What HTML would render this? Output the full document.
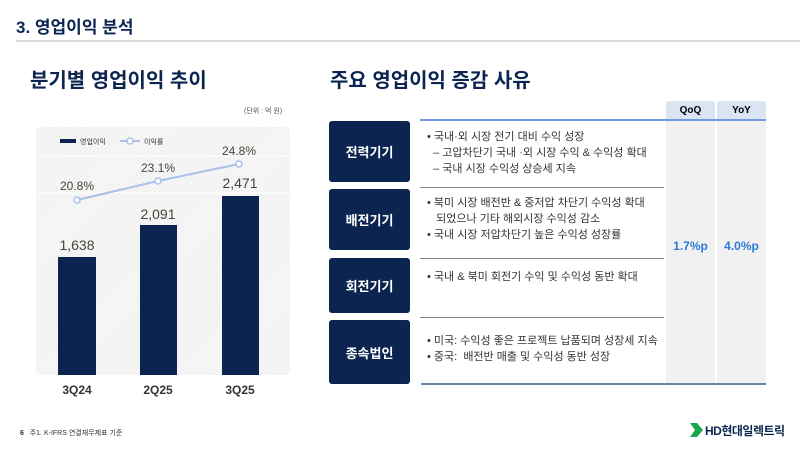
<!DOCTYPE html>
<html><head><meta charset="utf-8"><style>
body{margin:0;width:800px;height:452px;background:#fff;position:relative;overflow:hidden;font-family:"Liberation Sans","Noto Sans CJK KR",sans-serif;}
.a{position:absolute;}
.box{position:absolute;left:329px;width:81px;background:#0b2550;border-radius:3px;color:#fff;font-weight:bold;font-size:13px;display:flex;align-items:center;justify-content:center;}
.t{position:absolute;left:427px;font-size:11px;color:#333;line-height:16px;}
.hl{position:absolute;left:420px;width:244px;height:1px;background:#8a8a8a;}
</style></head><body>
<div class="a" style="left:16px;top:13px;font-size:17px;font-weight:bold;color:#0b2550">3. 영업이익 분석</div>
<div class="a" style="left:16px;top:40px;width:784px;height:2px;background:#ddd"></div>
<div class="a" style="left:30px;top:64px;font-size:20px;font-weight:bold;color:#0b2550">분기별 영업이익 추이</div>
<div class="a" style="left:244px;top:106px;font-size:7px;color:#555">(단위 : 억 원)</div>
<div class="a" style="left:36px;top:127px;width:254px;height:248px;background:repeating-linear-gradient(135deg,#eee 0 1px,#f7f7f7 1px 3px);border-radius:4px"></div>
<svg class="a" style="left:0;top:0" width="300" height="400">
<line x1="36" x2="290" y1="156" y2="156" stroke="#fff"/>
<line x1="36" x2="290" y1="193" y2="193" stroke="#fff"/>
<line x1="60" x2="76" y1="141" y2="141" stroke="#0b2550" stroke-width="4"/>
<text x="80" y="144" font-size="7" fill="#333">영업이익</text>
<line x1="120" x2="140" y1="141" y2="141" stroke="#a9c0e8" stroke-width="2"/><circle cx="130" cy="141" r="3" fill="#fff" stroke="#a9c0e8" stroke-width="1.5"/>
<text x="144" y="144" font-size="7" fill="#333">이익률</text>
<rect x="58" y="257" width="38" height="118" fill="#0b2550"/>
<rect x="140" y="225" width="37" height="150" fill="#0b2550"/>
<rect x="222" y="196" width="37" height="179" fill="#0b2550"/>
<polyline points="77,200 158,181 239,164" fill="none" stroke="#a9c0e8" stroke-width="2"/>
<g fill="#fff" stroke="#a9c0e8" stroke-width="1.5"><circle cx="77" cy="200" r="3"/><circle cx="158" cy="181" r="3"/><circle cx="239" cy="164" r="3"/></g>
<g font-size="12" fill="#4a4438" text-anchor="middle">
<text x="77" y="190">20.8%</text><text x="158" y="172">23.1%</text><text x="239" y="155">24.8%</text>
<text x="77" y="250" font-size="14">1,638</text><text x="158" y="219" font-size="14">2,091</text><text x="240" y="188" font-size="14">2,471</text>
</g>
<g font-size="12" font-weight="bold" fill="#333" text-anchor="middle">
<text x="77" y="394">3Q24</text><text x="158" y="394">2Q25</text><text x="240" y="394">3Q25</text></g>
</svg>
<div class="a" style="left:330px;top:64px;font-size:20px;font-weight:bold;color:#0b2550">주요 영업이익 증감 사유</div>
<div class="a" style="left:666px;top:101px;width:49px;height:19px;background:#dbe4f3;border-radius:3px 3px 0 0;font-size:10px;font-weight:bold;text-align:center;line-height:19px">QoQ</div>
<div class="a" style="left:717px;top:101px;width:49px;height:19px;background:#dbe4f3;border-radius:3px 3px 0 0;font-size:10px;font-weight:bold;text-align:center;line-height:19px">YoY</div>
<div class="a" style="left:666px;top:120px;width:49px;height:264px;background:#f1f1f1"></div>
<div class="a" style="left:717px;top:120px;width:49px;height:264px;background:#f1f1f1"></div>
<div class="a" style="left:420px;top:119px;width:346px;height:2px;background:#6f9be0"></div>
<div class="a" style="left:421px;top:383px;width:345px;height:2px;background:#6a84a8"></div>
<div class="hl" style="top:187px"></div><div class="hl" style="top:258px"></div><div class="hl" style="top:317px"></div>
<div class="a" style="left:666px;top:239px;width:49px;text-align:center;font-size:12px;font-weight:bold;color:#2b7bd6">1.7%p</div>
<div class="a" style="left:717px;top:239px;width:49px;text-align:center;font-size:12px;font-weight:bold;color:#2b7bd6">4.0%p</div>
<div class="box" style="top:121px;height:61px">전력기기</div>
<div class="box" style="top:189px;height:61px">배전기기</div>
<div class="box" style="top:258px;height:55px">회전기기</div>
<div class="box" style="top:320px;height:64px">종속법인</div>
<div class="t" style="top:129px">• 국내·외 시장 전기 대비 수익 성장<br>&nbsp;&nbsp;– 고압차단기 국내 ·외 시장 수익 &amp; 수익성 확대<br>&nbsp;&nbsp;– 국내 시장 수익성 상승세 지속</div>
<div class="t" style="top:195px">• 북미 시장 배전반 &amp; 중저압 차단기 수익성 확대<br>&nbsp;&nbsp;&nbsp;되었으나 기타 해외시장 수익성 감소<br>• 국내 시장 저압차단기 높은 수익성 성장률</div>
<div class="t" style="top:269px">• 국내 &amp; 북미 회전기 수익 및 수익성 동반 확대</div>
<div class="t" style="top:333px">• 미국: 수익성 좋은 프로젝트 납품되며 성장세 지속<br>• 중국:&nbsp; 배전반 매출 및 수익성 동반 성장</div>
<div class="a" style="left:20px;top:428px;font-size:7px;color:#333"><b>6</b>&nbsp;&nbsp;&nbsp;주1. K-IFRS 연결재무제표 기준</div>
<svg class="a" style="left:690px;top:423px" width="14" height="14"><polygon points="0,0 7,0 13,7 7,14 0,14 5,7" fill="#1aa64a"/></svg>
<div class="a" style="left:705px;top:422px;font-size:12px;font-weight:bold;color:#0b2550;letter-spacing:-0.5px">HD현대일렉트릭</div>
</body></html>
